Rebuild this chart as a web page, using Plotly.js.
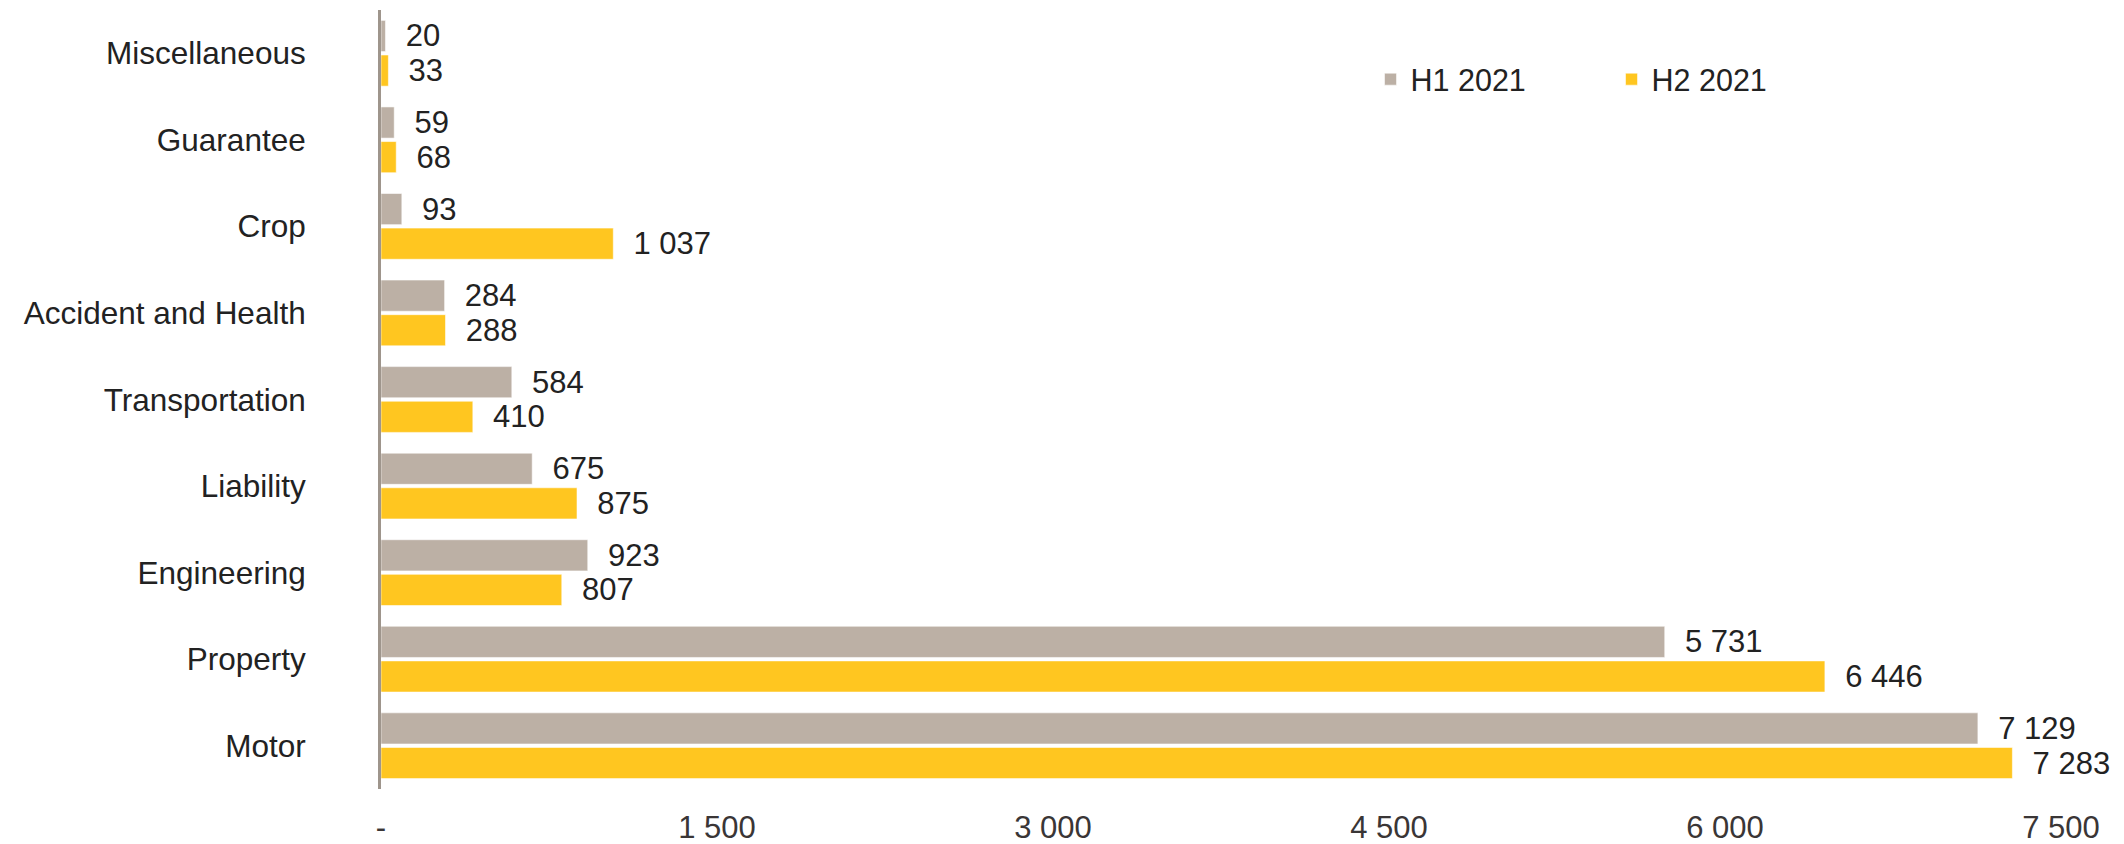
<!DOCTYPE html>
<html>
<head>
<meta charset="utf-8">
<script src="https://cdn.plot.ly/plotly-3.0.1.min.js"></script>
<style>
  html, body { margin: 0; padding: 0; background: #ffffff; }
  #chart { width: 2124px; height: 844px; }
</style>
</head>
<body>
<div id="chart"></div>
<script>
const categories = ["Miscellaneous", "Guarantee", "Crop", "Accident and Health", "Transportation", "Liability", "Engineering", "Property", "Motor"];
const h1_2021 = [20, 59, 93, 284, 584, 675, 923, 5731, 7129];
const h2_2021 = [33, 68, 1037, 288, 410, 875, 807, 6446, 7283];
const seriesNames = ["H1 2021", "H2 2021"];
const xTickVals = [0, 1500, 3000, 4500, 6000, 7500];
const xTickText = ["-", "1 500", "3 000", "4 500", "6 000", "7 500"];

const FONT = "Liberation Sans, Arial, sans-serif";

function barTrace(name, values, color) {
  return {
    type: "bar",
    orientation: "h",
    name: name,
    y: categories,
    x: values,
    marker: { color: color, line: { color: "rgba(255,255,255,0.55)", width: 1 } },
    texttemplate: "\u00a0\u00a0%{x:,}",
    textposition: "outside",
    constraintext: "none",
    cliponaxis: false,
    textfont: { family: FONT, size: 31, color: "#222222" },
    hoverinfo: "skip"
  };
}

const data = [
  barTrace(seriesNames[0], h1_2021, "#BCB0A5"),
  barTrace(seriesNames[1], h2_2021, "#FFC620")
];

const layout = {
  width: 2124,
  height: 844,
  paper_bgcolor: "#ffffff",
  plot_bgcolor: "#ffffff",
  separators: ". ",
  margin: { l: 381, r: 63, t: 10, b: 55, pad: 0 },
  barmode: "group",
  bargap: 0.2,
  bargroupgap: 0.1,
  font: { family: FONT, size: 31, color: "#222222" },
  xaxis: {
    range: [0, 7500],
    tickvals: xTickVals,
    ticktext: xTickText,
    showgrid: false,
    zeroline: false,
    showline: false,
    ticks: "",
    ticklabelstandoff: 17,
    tickfont: { family: FONT, size: 31, color: "#3a3636" },
    fixedrange: true
  },
  yaxis: {
    type: "category",
    autorange: "reversed",
    showgrid: false,
    zeroline: false,
    showline: true,
    linecolor: "#9E958C",
    linewidth: 3,
    ticks: "",
    ticklabelstandoff: 66,
    tickfont: { family: FONT, size: 31.5, color: "#222222" },
    fixedrange: true
  },
  showlegend: true,
  legend: {
    orientation: "h",
    x: 0.589,
    xanchor: "left",
    y: 0.945,
    yanchor: "top",
    font: { family: FONT, size: 30.5, color: "#222222" },
    bgcolor: "rgba(0,0,0,0)",
    entrywidth: 196,
    entrywidthmode: "pixels"
  }
};

Plotly.newPlot("chart", data, layout, { staticPlot: true, displayModeBar: false });
</script>
</body>
</html>
